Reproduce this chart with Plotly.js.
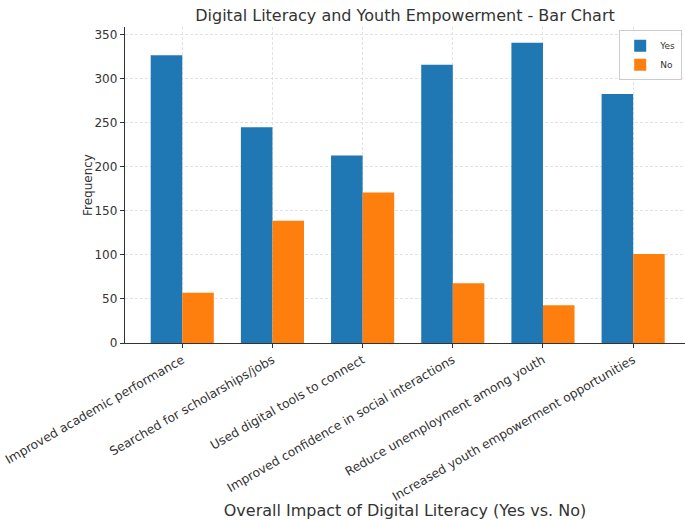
<!DOCTYPE html>
<html>
<head>
<meta charset="utf-8">
<script src="https://cdn.plot.ly/plotly-3.0.1.min.js"></script>
<style>html,body{margin:0;padding:0;background:#fff;}#chart{width:685px;height:520px;}</style>
</head>
<body>
<div id="chart"></div>
<script>
const categories = [
  "Improved academic performance",
  "Searched for scholarships/jobs",
  "Used digital tools to connect",
  "Improved confidence in social interactions",
  "Reduce unemployment among youth",
  "Increased youth empowerment opportunities"
];
const yesValues = [327, 245, 213, 316, 341, 283];
const noValues = [57, 139, 171, 68, 43, 101];
const seriesNames = ["Yes", "No"];
const yTicks = [0, 50, 100, 150, 200, 250, 300, 350];

const idx = categories.map((c, i) => i);
const font = "DejaVu Sans, sans-serif";

const traces = [
  {type: "bar", name: seriesNames[0], x: idx, y: yesValues, marker: {color: "#1f77b4"}},
  {type: "bar", name: seriesNames[1], x: idx, y: noValues, marker: {color: "#ff7f0e"}}
];

const layout = {
  width: 685, height: 520,
  margin: {l: 125, r: 0, t: 27, b: 177},
  paper_bgcolor: "#fff", plot_bgcolor: "#fff",
  font: {family: font, color: "#333", size: 11},
  barmode: "group", bargap: 0.3, bargroupgap: 0,
  title: {text: "Digital Literacy and Youth Empowerment - Bar Chart", font: {family: font, size: 16, color: "#333"}, xref: "paper", x: 0.5, xanchor: "center", y: 0.97, yanchor: "middle"},
  xaxis: {
    range: [-0.635, 5.575],
    tickmode: "array", tickvals: idx, ticktext: categories,
    tickangle: -30, tickfont: {family: font, size: 12.3, color: "#333"},
    showgrid: true, gridcolor: "#dcdcdc", griddash: "3px,2px", gridwidth: 0.8,
    showline: true, linecolor: "#333", linewidth: 1.2,
    ticks: "outside", ticklen: 4, tickcolor: "#333",
    zeroline: false,
    title: {text: "Overall Impact of Digital Literacy (Yes vs. No)", font: {family: font, size: 16, color: "#333"}},
    automargin: false
  },
  yaxis: {
    range: [0, 359],
    tickmode: "array", tickvals: yTicks,
    tickfont: {family: font, size: 12, color: "#333"},
    showgrid: true, gridcolor: "#dcdcdc", griddash: "3px,2px", gridwidth: 0.8,
    showline: true, linecolor: "#333", linewidth: 1.2,
    ticks: "outside", ticklen: 4, tickcolor: "#333",
    zeroline: false,
    automargin: false
  },
  annotations: [{
    text: "Frequency", xref: "paper", yref: "paper", x: -0.066, y: 0.5,
    xanchor: "center", yanchor: "middle", textangle: -90, showarrow: false,
    font: {family: font, size: 12, color: "#333"}
  }],
  legend: {
    x: 0.995, xanchor: "right", y: 0.99, yanchor: "top",
    bgcolor: "rgba(255,255,255,0.8)", bordercolor: "#ccc", borderwidth: 1,
    font: {family: font, size: 9, color: "#333"},
    tracegroupgap: 0, itemwidth: 30
  },
  showlegend: true
};

Plotly.newPlot("chart", traces, layout, {displayModeBar: false, staticPlot: true});
</script>
</body>
</html>
